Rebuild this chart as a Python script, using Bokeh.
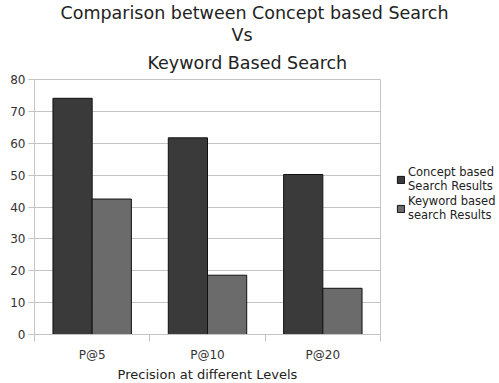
import numpy as np
from bokeh.plotting import figure
from bokeh.models import ColumnDataSource, FixedTicker, Legend, LegendItem, Title
from bokeh.transform import dodge
from bokeh.embed import file_html
from bokeh.resources import INLINE

categories = ["P@5", "P@10", "P@20"]
concept = [74.1, 61.7, 50.2]
keyword = [42.5, 18.6, 14.5]
series_names = ["Concept based\nSearch Results", "Keyword based\nsearch Results"]
title_lines = ["Comparison between Concept based Search", "Vs", "Keyword Based Search"]
y_ticks = [0, 10, 20, 30, 40, 50, 60, 70, 80]

FONT = "DejaVu Sans"
GRID = "#c4c4c4"

centers = np.arange(len(categories)) + 0.5
src = ColumnDataSource(dict(x=centers, concept=concept, keyword=keyword))

p = figure(frame_width=346, frame_height=255, x_range=(0, len(categories)), y_range=(0, 80),
           output_backend="svg", toolbar_location=None,
           min_border_left=34, min_border_right=0, min_border_top=2, min_border_bottom=0)

r1 = p.vbar(x=dodge("x", -0.17, range=p.x_range), top="concept", width=0.34, source=src,
            fill_color="#3a3a3a", line_color="#111111", line_width=1)
r2 = p.vbar(x=dodge("x", 0.17, range=p.x_range), top="keyword", width=0.34, source=src,
            fill_color="#6b6b6b", line_color="#111111", line_width=1)

def style_title(t, offset, standoff):
    t.align = "left"
    t.text_font = FONT
    t.text_font_size = "17.5px"
    t.text_font_style = "normal"
    t.text_color = "#222222"
    t.offset = offset
    t.standoff = standoff

p.title.text = title_lines[0]
style_title(p.title, 26, 0)
t3 = Title(text=title_lines[2])
style_title(t3, 113, 13)
p.add_layout(t3, "above")
t2 = Title(text=title_lines[1])
style_title(t2, 197, 0)
p.add_layout(t2, "above")

p.outline_line_color = GRID
p.background_fill_color = "white"
p.border_fill_color = "white"
p.xgrid.grid_line_color = None
p.ygrid.grid_line_color = GRID
p.ygrid.ticker = FixedTicker(ticks=y_ticks)

ya = p.yaxis[0]
ya.ticker = FixedTicker(ticks=y_ticks)
ya.axis_line_color = GRID
ya.major_tick_line_color = GRID
ya.major_tick_in = 0
ya.major_tick_out = 6
ya.minor_tick_line_color = None
ya.major_label_text_font = FONT
ya.major_label_text_font_size = "12px"
ya.major_label_text_color = "#333333"
ya.major_label_standoff = 3

xa = p.xaxis[0]
xa.ticker = FixedTicker(ticks=list(centers), minor_ticks=list(range(len(categories) + 1)))
xa.major_label_overrides = {float(c): lab for c, lab in zip(centers, categories)}
xa.major_tick_line_color = None
xa.minor_tick_line_color = GRID
xa.minor_tick_in = 0
xa.minor_tick_out = 7
xa.axis_line_color = GRID
xa.major_label_text_font = FONT
xa.major_label_text_font_size = "12px"
xa.major_label_text_color = "#333333"
xa.major_label_standoff = 6
xa.axis_label = "Precision at different Levels"
xa.axis_label_text_font = FONT
xa.axis_label_text_font_size = "13px"
xa.axis_label_text_font_style = "normal"
xa.axis_label_text_color = "#222222"
xa.axis_label_standoff = 2

legend = Legend(items=[LegendItem(label=series_names[0], renderers=[r1]),
                       LegendItem(label=series_names[1], renderers=[r2])],
                location=(16, 112), border_line_color=None, background_fill_alpha=0,
                glyph_width=9, glyph_height=9, label_text_font=FONT,
                label_text_font_size="11.5px", label_text_color="#222222",
                label_standoff=3, spacing=1, padding=0, margin=0,
                label_text_line_height=1.15)
p.add_layout(legend, "right")

open("out.html", "w").write(file_html(p, INLINE))
